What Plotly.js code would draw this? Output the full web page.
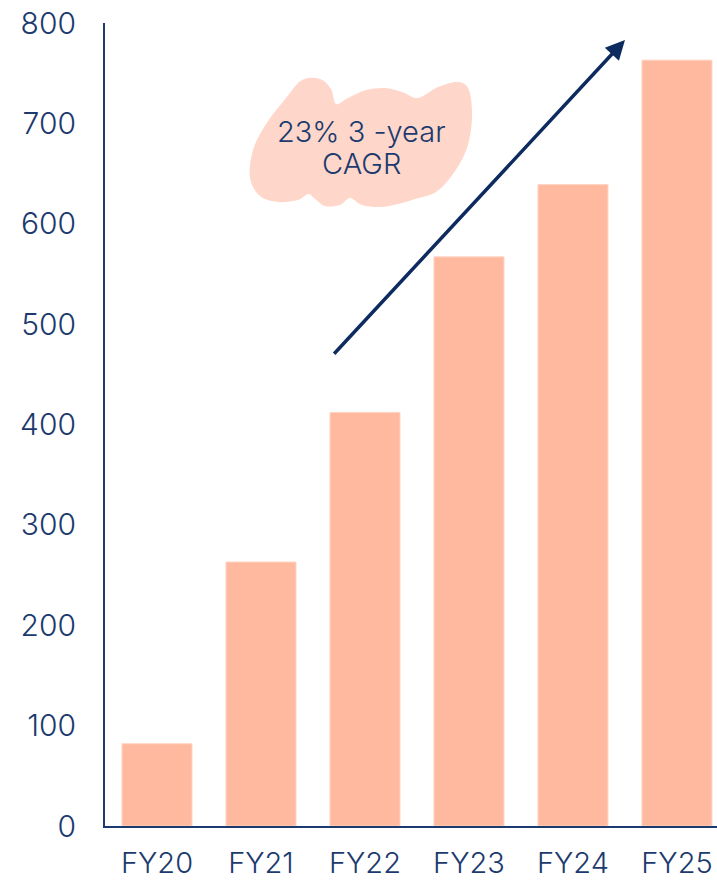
<!DOCTYPE html>
<html>
<head>
<meta charset="utf-8">
<script src="https://cdn.plot.ly/plotly-3.0.1.min.js"></script>
<style>html,body{margin:0;padding:0;background:#fff;}#chart{width:717px;height:880px;}</style>
</head>
<body>
<div id="chart"></div>
<script>
// Data
const categories = ["FY20", "FY21", "FY22", "FY23", "FY24", "FY25"];
const values = [82, 263, 412, 567, 639, 763];
const yTicks = [0, 100, 200, 300, 400, 500, 600, 700, 800];
const annotationLines = ["23% 3 -year", "CAGR"];

// Layout geometry (pixels)
const W = 717, H = 880;
const mL = 105, mR = 0, mT = 23, mB = 54;
const pw = W - mL - mR, ph = H - mT - mB;
function px(x) { return (x - mL) / pw; }
function py(y) { return (H - mB - y) / ph; }

// Decorative blob behind the annotation (pixel outline -> paper coords)
const blobPts = [[250,178],[253,150],[266,124],[286,98],[302,80],[320,79],[331,89],[336,104],[348,98],[366,90],[385,88],[402,92],[418,98],[438,87],[458,82],[469,90],[472,118],[467,148],[453,174],[436,192],[415,199],[398,204],[380,207],[362,205],[350,198],[340,205],[325,206],[314,198],[308,194],[298,200],[278,202],[260,196]];
function blobPath(pts) {
  const n = pts.length;
  const P = pts.map(p => [px(p[0]), py(p[1])]);
  let d = "M " + P[0][0] + "," + P[0][1];
  for (let i = 0; i < n; i++) {
    const p0 = P[(i - 1 + n) % n], p1 = P[i], p2 = P[(i + 1) % n], p3 = P[(i + 2) % n];
    const c1 = [p1[0] + (p2[0] - p0[0]) / 6, p1[1] + (p2[1] - p0[1]) / 6];
    const c2 = [p2[0] - (p3[0] - p1[0]) / 6, p2[1] - (p3[1] - p1[1]) / 6];
    d += " C " + c1[0] + "," + c1[1] + " " + c2[0] + "," + c2[1] + " " + p2[0] + "," + p2[1];
  }
  return d + " Z";
}

const navy = "#1c3a6e";
const font = "Inter, Liberation Sans, Arial, sans-serif";

const trace = {
  type: "bar",
  x: categories,
  y: values,
  marker: { color: "#ffb99f", line: { color: "#ffd3c3", width: 1 } },
  hoverinfo: "x+y"
};

const layout = {
  width: W, height: H,
  margin: { l: mL, r: mR, t: mT, b: mB, pad: 0 },
  paper_bgcolor: "#ffffff",
  plot_bgcolor: "#ffffff",
  showlegend: false,
  bargap: 0.327,
  font: { family: font, color: navy },
  xaxis: {
    type: "category",
    range: [-0.5, 5.385],
    showgrid: false, zeroline: false,
    showline: true, linecolor: navy, linewidth: 2,
    ticks: "outside", ticklen: 10, tickcolor: "rgba(0,0,0,0)",
    tickfont: { family: font, size: 29, color: navy, weight: 300 }
  },
  yaxis: {
    range: [0, 800],
    tickvals: yTicks,
    ticktext: yTicks.map(String),
    showgrid: false, zeroline: false,
    showline: true, linecolor: navy, linewidth: 2,
    ticks: "outside", ticklen: 21, tickcolor: "rgba(0,0,0,0)",
    tickfont: { family: font, size: 30, color: navy, weight: 300 }
  },
  shapes: [{
    type: "path", xref: "paper", yref: "paper", layer: "below",
    path: blobPath(blobPts),
    fillcolor: "#ffd7ca", line: { width: 0 }
  }],
  annotations: [
    {
      xref: "paper", yref: "paper", xanchor: "center", yanchor: "middle",
      x: px(361), y: py(131),
      text: annotationLines[0], showarrow: false,
      font: { family: font, size: 29, color: navy, weight: 300 }
    },
    {
      xref: "paper", yref: "paper", xanchor: "center", yanchor: "middle",
      x: px(361), y: py(163),
      text: annotationLines[1], showarrow: false,
      font: { family: font, size: 29, color: navy, weight: 300 }
    },
    {
      xref: "x", yref: "y", axref: "x", ayref: "y",
      x: 4.5, y: 783, ax: 1.69, ay: 469,
      text: "", showarrow: true,
      arrowhead: 2, arrowsize: 1.1, arrowwidth: 3.5,
      arrowcolor: "#0d2b5e"
    }
  ]
};

Plotly.newPlot("chart", [trace], layout, { displayModeBar: false, staticPlot: true });
</script>
</body>
</html>
